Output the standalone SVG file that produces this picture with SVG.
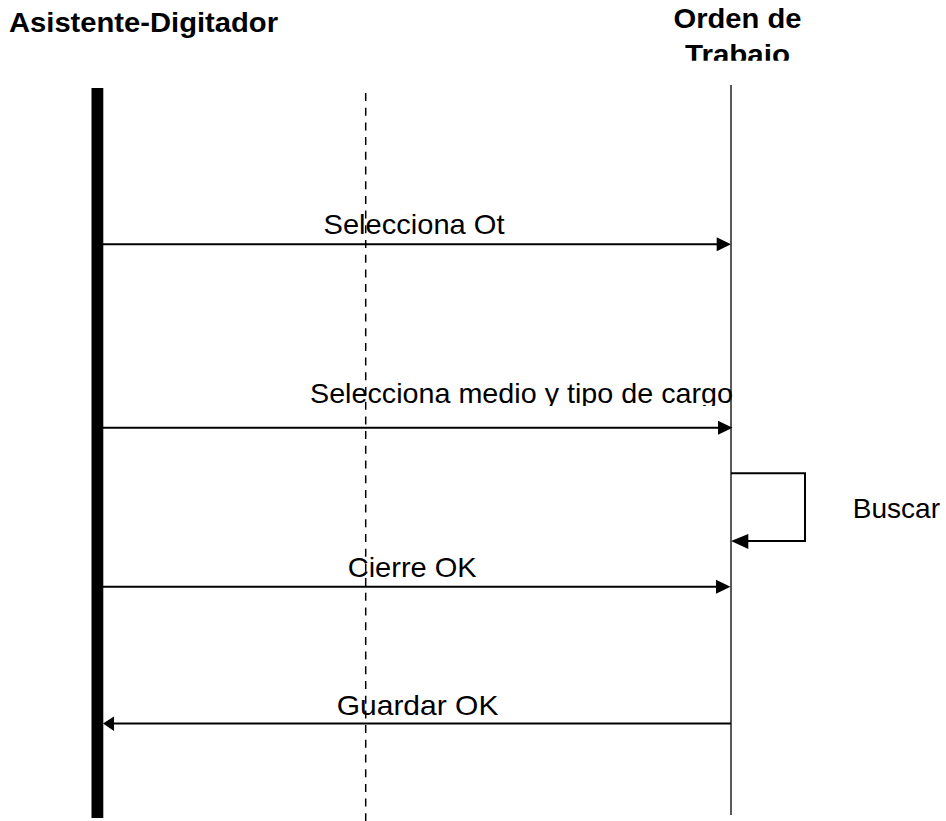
<svg xmlns="http://www.w3.org/2000/svg" width="946" height="821" viewBox="0 0 946 821">
<style>
.t{font-family:"Liberation Sans",Arial,sans-serif;font-size:28px;fill:#000}
.b{font-weight:bold}
.msg{stroke:#000;stroke-width:2;fill:none}
.head{fill:#000}
</style>
<defs>
<clipPath id="clipMedio"><rect x="300" y="370" width="450" height="36"/></clipPath>
<clipPath id="clipHeader"><rect x="640" y="0" width="200" height="60.7"/></clipPath>
</defs>
<rect width="946" height="821" fill="#fff"/>
<g id="actor-asistente">
<text class="t b" x="9" y="32.3" textLength="269" lengthAdjust="spacingAndGlyphs">Asistente-Digitador</text>
<rect x="91.5" y="88" width="11.8" height="730" fill="#000"/>
</g>
<g id="object-orden" clip-path="url(#clipHeader)">
<text class="t b" x="737.5" y="28.3" text-anchor="middle" textLength="128" lengthAdjust="spacingAndGlyphs">Orden de</text>
<text class="t b" x="737.5" y="63.5" text-anchor="middle" textLength="105" lengthAdjust="spacingAndGlyphs">Trabajo</text>
</g>
<g id="lifeline-orden">
<line x1="731" y1="85" x2="731" y2="815" stroke="#000" stroke-width="1.3"/>
</g>
<g id="labels">
<text class="t" x="323.5" y="234" textLength="181" lengthAdjust="spacingAndGlyphs">Selecciona Ot</text>
<text class="t" x="310" y="403.3" textLength="423" lengthAdjust="spacingAndGlyphs" clip-path="url(#clipMedio)">Selecciona medio y tipo de cargo</text>
<text class="t" x="852.7" y="517.7" textLength="87.3" lengthAdjust="spacingAndGlyphs">Buscar</text>
<text class="t" x="347.7" y="577.3" textLength="129" lengthAdjust="spacingAndGlyphs">Cierre OK</text>
<text class="t" x="336.7" y="715" textLength="161.7" lengthAdjust="spacingAndGlyphs">Guardar OK</text>
</g>
<g id="connectors">
<line class="msg" x1="103" y1="244.3" x2="718" y2="244.3"/>
<polygon class="head" points="731,244.3 716.7,237.3 716.7,251.3"/>
<line class="msg" x1="103" y1="427.7" x2="719" y2="427.7"/>
<polygon class="head" points="732.5,427.7 718,420.7 718,434.7"/>
<line class="msg" x1="103" y1="586.7" x2="717" y2="586.7"/>
<polygon class="head" points="730.5,586.7 716,579.7 716,593.7"/>
<line class="msg" x1="731" y1="723.5" x2="112" y2="723.5"/>
<polygon class="head" points="103,723.5 114,716.5 114,731"/>
<polyline class="msg" points="731,473.3 805,473.3 805,541 747,541"/>
<polygon class="head" points="731,541 748.3,534 748.3,549"/>
</g>
<g id="dashed-lifeline">
<line x1="365.7" y1="93" x2="365.7" y2="821" stroke="#000" stroke-width="1.5" stroke-dasharray="8 6.7"/>
</g>
</svg>
